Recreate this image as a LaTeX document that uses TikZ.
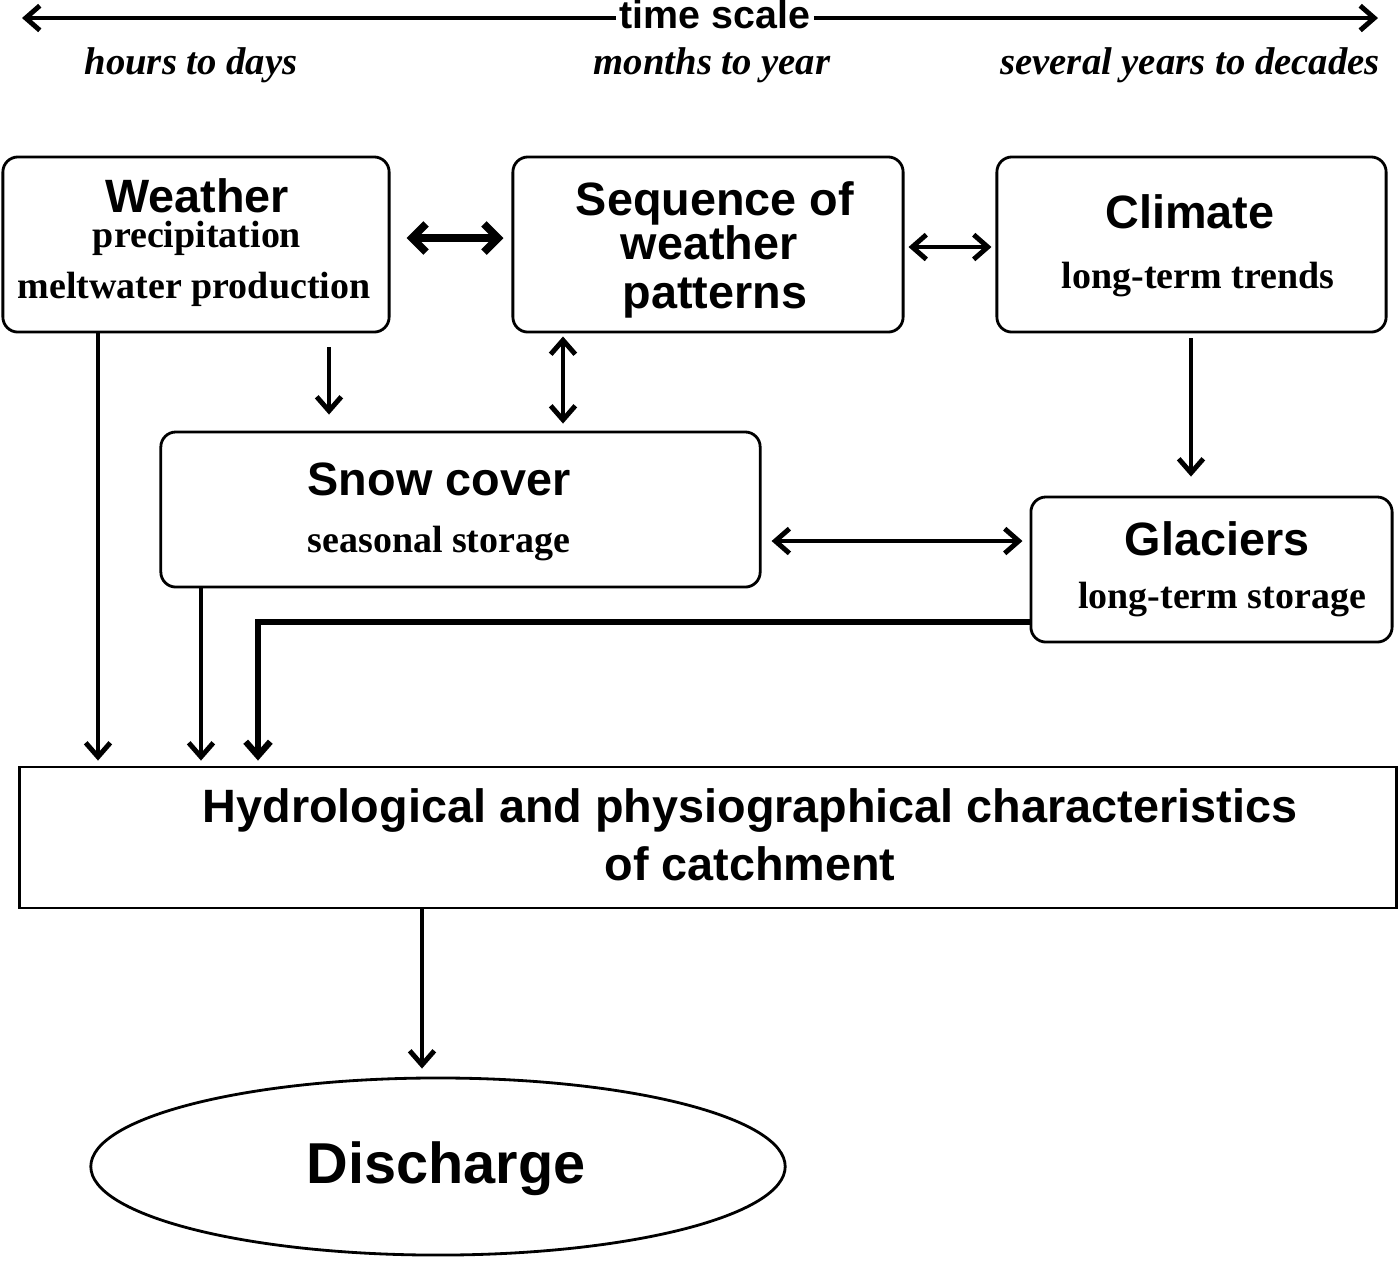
\documentclass[tikz,border=0pt]{standalone}
\usepackage{fontspec}
\setmainfont{Liberation Serif}
\setsansfont{Liberation Sans}
\usetikzlibrary{arrows.meta,shapes.geometric}
\begin{document}
\begin{tikzpicture}[x=0.01cm,y=-0.01cm,
  box/.style={draw,line width=0.8pt,rounded corners=0.15cm,inner sep=0},
  plainbox/.style={draw,line width=0.8pt,inner sep=0},
  title/.style={font=\sffamily\bfseries\fontsize{13.3}{14}\selectfont,inner sep=0,anchor=base},
  bigtitle/.style={font=\sffamily\bfseries\fontsize{16.4}{18}\selectfont,inner sep=0,anchor=base},
  sub/.style={font=\rmfamily\bfseries\fontsize{10.8}{12}\selectfont,inner sep=0,anchor=base},
  scalelabel/.style={font=\rmfamily\bfseries\itshape\fontsize{11}{12}\selectfont,inner sep=0,anchor=base},
  arr/.style={line width=1.4pt,-{Straight Barb[length=4pt,width=7pt]}},
  darr/.style={line width=1.4pt,{Straight Barb[length=4pt,width=7pt]}-{Straight Barb[length=4pt,width=7pt]}},
  thickdarr/.style={line width=2.2pt,{Straight Barb[length=4pt,width=8pt]}-{Straight Barb[length=4pt,width=8pt]}},
]
\useasboundingbox (0,0) rectangle (1400,1262);

% time scale
\node[font=\sffamily\bfseries\fontsize{11.2}{13}\selectfont,inner sep=0,anchor=base] (ts) at (715,28) {time scale};
\coordinate (tsL) at (22,18);
\coordinate (tsR) at (1378,18);
\draw[arr] ([shift={(-3,0)}]ts.west |- tsL) -- (tsL);
\draw[arr] ([shift={(3,0)}]ts.east |- tsR) -- (tsR);
\node[scalelabel] (l1) at (191,74) {hours to days};
\node[scalelabel] (l2) at (712,74) {months to year};
\node[scalelabel] (l3) at (1190,74) {several years to decades};

% boxes
\node[box,minimum width=3.86cm,minimum height=1.75cm] (weather) at (196,244.5) {};
\node[box,minimum width=3.90cm,minimum height=1.75cm] (seq) at (708,244.5) {};
\node[box,minimum width=3.89cm,minimum height=1.75cm] (climate) at (1191.5,244.5) {};
\node[box,minimum width=5.99cm,minimum height=1.55cm] (snow) at (460.5,509.5) {};
\node[box,minimum width=3.61cm,minimum height=1.45cm] (glac) at (1211.5,569.5) {};
\node[plainbox,minimum width=13.76cm,minimum height=1.41cm] (hydro) at (708,837.5) {};
\node[draw,line width=0.8pt,ellipse,inner sep=0,minimum width=6.94cm,minimum height=1.77cm] (dis) at (438,1166.5) {};

% texts
\node[title] (wt) at (197,212) {Weather};
\node[sub] (ws1) at (197,247) {precipitation};
\node[sub] (ws2) at (194,298) {meltwater production};
\node[title] (st1) at (715,215) {Sequence of};
\node[title] (st2) at (709,259) {weather};
\node[title] (st3) at (715,308) {patterns};
\node[title] (ct) at (1190,228) {Climate};
\node[sub] (cs) at (1198,288) {long-term trends};
\node[title] (snt) at (439,495) {Snow cover};
\node[sub] (sns) at (439,552) {seasonal storage};
\node[title] (gt) at (1217,555) {Glaciers};
\node[sub] (gs) at (1222,608) {long-term storage};
\node[title] (ht1) at (750,822) {Hydrological and physiographical characteristics};
\node[title] (ht2) at (750,880) {of catchment};
\node[bigtitle] (dt) at (446,1183) {Discharge};

% connectors
\draw[thickdarr] ([shift={(16,-6.5)}]weather.east) -- ([shift={(-8,-6.5)}]seq.west);
\draw[darr] ([shift={(4,2.5)}]seq.east) -- ([shift={(-4,2.5)}]climate.west);
\draw[arr] ([shift={(133,14)}]weather.south) -- ([shift={(-131.5,-16)}]snow.north);
\draw[darr] ([shift={(-145,3)}]seq.south) -- ([shift={(102.5,-7)}]snow.north);
\draw[arr] ([shift={(-0.5,5)}]climate.south) -- ([shift={(-20.5,-19)}]glac.north);
\draw[darr] ([shift={(10,31.5)}]snow.east) -- ([shift={(-7,-28.5)}]glac.west);
\draw[arr] ([shift={(-98,0)}]weather.south) -- ([shift={(-610,-5)}]hydro.north);
\draw[arr] ([shift={(-259.5,0)}]snow.south) -- ([shift={(-507,-5)}]hydro.north);
\draw[arr,line width=1.8pt] ([shift={(0,52.5)}]glac.west) -| ([shift={(-450,-5)}]hydro.north);
\draw[arr] ([shift={(-286,0)}]hydro.south) -- ([shift={(-16,-8)}]dis.north);
\end{tikzpicture}
\end{document}
